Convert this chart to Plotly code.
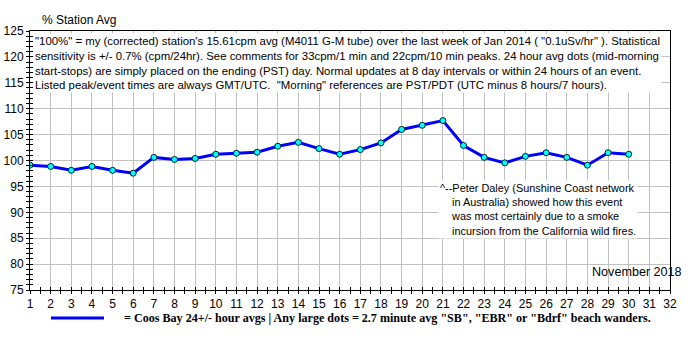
import plotly.graph_objects as go

days = list(range(1, 31))
pct_avg = [99.1, 98.85, 98.1, 98.85, 98.1, 97.55, 100.6, 100.2, 100.4, 101.2,
           101.4, 101.6, 102.75, 103.5, 102.3, 101.2, 102.1, 103.4, 106.0, 106.8,
           107.7, 102.9, 100.6, 99.55, 100.8, 101.5, 100.6, 99.1, 101.5, 101.2]

y_title = "% Station Avg"
month_label = "November 2018"
info_lines = [
    '"100%" = my (corrected) station\'s 15.61cpm avg (M4011 G-M tube) over the last week of Jan 2014 ( "0.1uSv/hr" ). Statistical',
    'sensitivity is +/- 0.7% (cpm/24hr). See comments for 33cpm/1 min and 22cpm/10 min peaks. 24 hour avg dots (mid-morning',
    'start-stops) are simply placed on the ending (PST) day. Normal updates at 8 day intervals or within 24 hours of an event.',
    'Listed peak/event times are always GMT/UTC.  "Morning" references are PST/PDT (UTC minus 8 hours/7 hours).',
]
note_lines = [
    "^--Peter Daley (Sunshine Coast network",
    "\u00a0\u00a0\u00a0\u00a0in Australia) showed how this event",
    "\u00a0\u00a0\u00a0\u00a0was most certainly due to a smoke",
    "\u00a0\u00a0\u00a0\u00a0incursion from the California wild fires.",
]
legend_text = '= Coos Bay 24+/- hour avgs | Any large dots = 2.7 minute avg "SB", "EBR" or "Bdrf" beach wanders.'

FONT = "Liberation Sans, Arial, sans-serif"

fig = go.Figure()
fig.add_trace(go.Scatter(
    x=days, y=pct_avg, mode="lines+markers",
    line=dict(color="#0000FF", width=3),
    marker=dict(symbol="circle", size=6, color="#00FFFF", line=dict(color="#002222", width=1)),
    showlegend=False, xaxis="x", yaxis="y",
))
fig.add_trace(go.Scatter(x=[None], y=[None], xaxis="x2", yaxis="y2", showlegend=False))

common_x = dict(range=[1, 32], dtick=1, tick0=1, automargin=False)
common_y = dict(range=[75, 125], dtick=5, tick0=75, automargin=False)

fig.update_layout(
    width=700, height=350,
    margin=dict(l=30, r=30, t=31, b=60),
    paper_bgcolor="white", plot_bgcolor="white",
    font=dict(family=FONT, size=12, color="black"),
    xaxis=dict(**common_x, showgrid=True, gridcolor="#C0C0C0", gridwidth=1,
               showline=True, linecolor="black", linewidth=1, mirror=True,
               ticks="outside", ticklen=3, tickcolor="black",
               minor=dict(dtick=0.5, ticks="outside", ticklen=3, tickcolor="black", showgrid=False),
               tickfont=dict(size=12), zeroline=False),
    yaxis=dict(**common_y, showgrid=True, gridcolor="#C0C0C0", gridwidth=1,
               showline=True, linecolor="black", linewidth=1, mirror=True,
               ticks="outside", ticklen=3, tickcolor="black",
               minor=dict(dtick=1, ticks="outside", ticklen=3, tickcolor="black", showgrid=False),
               tickfont=dict(size=12), zeroline=False),
    xaxis2=dict(**common_x, overlaying="x", showgrid=False, showticklabels=False,
                ticks="inside", ticklen=3, tickcolor="black", side="bottom",
                minor=dict(dtick=0.5, ticks="inside", ticklen=3, tickcolor="black"),
                zeroline=False, anchor="y2"),
    yaxis2=dict(**common_y, overlaying="y", showgrid=False, showticklabels=False,
                ticks="inside", ticklen=3, tickcolor="black", side="left",
                minor=dict(dtick=1, ticks="inside", ticklen=3, tickcolor="black"),
                zeroline=False, anchor="x2"),
)

fig.add_annotation(xref="paper", yref="paper", x=0.005, y=0.993, xanchor="left", yanchor="top",
                   text="<br>".join(info_lines), showarrow=False, align="left",
                   bgcolor="white", borderpad=1, font=dict(size=11.4))
fig.add_annotation(xref="paper", yref="paper", x=0.637, y=0.425, xanchor="left", yanchor="top",
                   text="<br>".join(note_lines), showarrow=False, align="left",
                   bgcolor="white", borderpad=1, font=dict(size=10.9))
fig.add_annotation(xref="paper", yref="paper", x=0.016, y=1.042, xanchor="left", yanchor="middle",
                   text=y_title, showarrow=False, font=dict(size=12))
fig.add_annotation(xref="paper", yref="paper", x=1.022, y=0.0695, xanchor="right", yanchor="middle",
                   text=month_label, showarrow=False, font=dict(size=12.6))
fig.add_shape(type="line", xref="paper", yref="paper", x0=0.0328, x1=0.1156, y0=-0.108, y1=-0.108,
              line=dict(color="#0000FF", width=3))
fig.add_annotation(xref="paper", yref="paper", x=0.144, y=-0.108, xanchor="left", yanchor="middle",
                   text="<b>" + legend_text + "</b>", showarrow=False,
                   font=dict(family="Liberation Serif, Times New Roman, serif", size=12.1))

fig.write_html("out.html")
